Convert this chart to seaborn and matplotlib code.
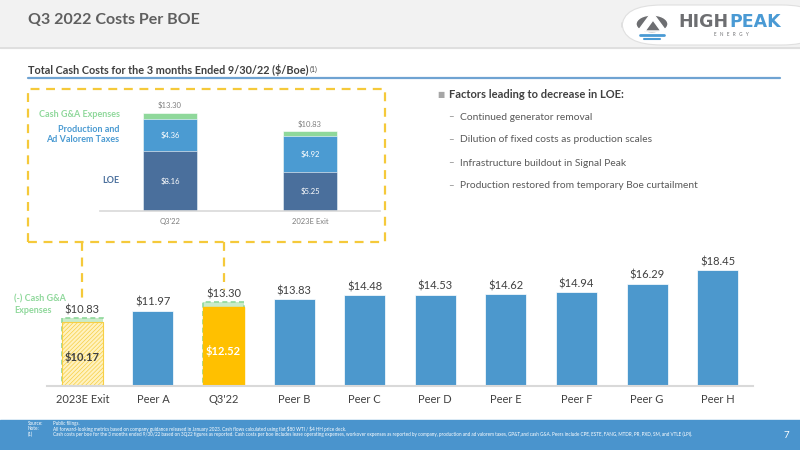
import numpy as np
import pandas as pd
import matplotlib
matplotlib.use("Agg")
import matplotlib.pyplot as plt
import seaborn as sns
from matplotlib.patches import Rectangle, FancyBboxPatch, Circle, Polygon
from matplotlib.lines import Line2D

# inset stacked chart (Q3'22 vs 2023E exit)
inset_cats = ["Q3'22", "2023E Exit"]
loe = [8.16, 5.25]
prod_taxes = [4.36, 4.92]
cash_ga = [0.78, 0.66]

# peer comparison chart
peer_cats = ["2023E Exit", "Peer A", "Q3'22", "Peer B", "Peer C", "Peer D",
             "Peer E", "Peer F", "Peer G", "Peer H"]
peer_totals = [10.83, 11.97, 13.30, 13.83, 14.48, 14.53, 14.62, 14.94, 16.29, 18.45]
hpk_cats = ["2023E Exit", "Q3'22"]
hpk_ex_ga = [10.17, 12.52]

factors = ["Continued generator removal",
           "Dilution of fixed costs as production scales",
           "Infrastructure buildout in Signal Peak",
           "Production restored from temporary Boe curtailment"]

sns.set_style("white")
plt.rcParams['font.family'] = ['Lato', 'DejaVu Sans']
plt.rcParams["hatch.linewidth"] = 0.5

W, H = 800, 450
fig = plt.figure(figsize=(8, 4.5), dpi=100)


def fx(x):
    return x / W


def fy(y):
    return 1 - y / H


def txt(x, y, s, **kw):
    return fig.text(fx(x), fy(y), s, **kw)


# header band
fig.patches.append(Rectangle((0, fy(48)), 1, 48 / H, transform=fig.transFigure,
                             color="#f2f2f2", zorder=0))
fig.add_artist(Line2D([0, 1], [fy(48), fy(48)], transform=fig.transFigure,
                      color="#dcdcdc", lw=1.2))
txt(28, 20, "Q3 2022 Costs Per BOE", fontsize=11.5, fontweight="bold",
    color="#5f5f5f", va="center")

# logo
fig.patches.append(FancyBboxPatch((fx(622), fy(45)), fx(200), 40 / H,
                                  boxstyle="round,pad=0,rounding_size=0.05",
                                  transform=fig.transFigure, fc="white",
                                  ec="#e0e0e0", lw=0.8, zorder=1))
fig.patches.append(Circle((fx(652), fy(24)), 16 / W, transform=fig.transFigure,
                          fc="#6d6e71", zorder=2))
fig.patches.append(Polygon([(fx(638), fy(31)), (fx(652), fy(12)), (fx(666), fy(31))],
                           closed=True, transform=fig.transFigure, fc="white", zorder=3))
fig.patches.append(Polygon([(fx(645), fy(31)), (fx(653), fy(20)), (fx(661), fy(31))],
                           closed=True, transform=fig.transFigure, fc="#6d6e71", zorder=4))
fig.add_artist(Line2D([fx(640), fx(664)], [fy(35), fy(35)], transform=fig.transFigure,
                      color="#4a9ad4", lw=2, zorder=5))
fig.add_artist(Line2D([fx(644), fx(660)], [fy(39), fy(39)], transform=fig.transFigure,
                      color="#4a9ad4", lw=1.5, zorder=5))
txt(729, 22, "HIGH", fontsize=12.5, fontweight="heavy", color="#6d6e71",
    ha="right", va="center", family="DejaVu Sans", zorder=5)
txt(729, 22, "PEAK", fontsize=12.5, fontweight="heavy", color="#4a9ad4",
    ha="left", va="center", family="DejaVu Sans", zorder=5)
txt(731, 35, "E   N   E   R   G   Y", fontsize=3.3, color="#6d6e71", ha="center",
    va="center", zorder=5)

# subtitle with underline
sub = txt(28, 70, "Total Cash Costs for the 3 months Ended 9/30/22 (\\$/Boe)",
          fontsize=7.8, fontweight="bold", color="#404040", va="center")

# dashed highlight box and connectors
ycol = "#f5c93a"
box = Rectangle((fx(28), fy(242)), fx(357), 153 / H, transform=fig.transFigure,
                fill=False, ec=ycol, lw=1.6, ls=(0, (4, 3)), zorder=1)
fig.patches.append(box)
for xc, yb in [(82, 300), (224, 290)]:
    fig.add_artist(Line2D([fx(xc), fx(xc)], [fy(242), fy(yb)], transform=fig.transFigure,
                          color=ycol, lw=1.6, ls=(0, (4, 3))))
fig.add_artist(Line2D([fx(28), fx(780)], [fy(78), fy(78)], transform=fig.transFigure,
                      color="#6fa3d2", lw=1.6))

# ---- inset stacked chart ----
ax1 = fig.add_axes([fx(100), fy(211), fx(280), 110.5 / H])
inset = pd.DataFrame({"cat": inset_cats, "loe": loe, "prod": prod_taxes, "ga": cash_ga})
inset["lvl2"] = inset["loe"] + inset["prod"]
inset["lvl3"] = inset["lvl2"] + inset["ga"]
sns.barplot(data=inset, x="cat", y="lvl3", color="#8fd89b", width=0.39, ax=ax1,
            saturation=1)
sns.barplot(data=inset, x="cat", y="lvl2", color="#4b9bd2", width=0.39, ax=ax1,
            saturation=1)
sns.barplot(data=inset, x="cat", y="loe", color="#4a6f9c", width=0.39, ax=ax1,
            saturation=1)
for p in ax1.patches:
    p.set_edgecolor("white")
    p.set_linewidth(0.4)
ax1.set_ylim(0, 15)
ax1.set_xlim(-0.5, 1.5)
for i, r in inset.iterrows():
    ax1.text(i, r["lvl3"] + 0.5, f"${r['lvl3']:.2f}", ha="center", va="bottom",
             fontsize=5.5, color="#7f7f7f")
    ax1.text(i, r["loe"] + r["prod"] / 2, f"${r['prod']:.2f}", ha="center",
             va="center", fontsize=5.5, color="white")
    ax1.text(i, r["loe"] / 2, f"${r['loe']:.2f}", ha="center", va="center",
             fontsize=5.5, color="white")
ax1.text(-0.36, inset["loe"][0] + inset["prod"][0] + inset["ga"][0] / 2 + 0.2,
         "Cash G&A Expenses", ha="right", va="center", fontsize=6.5,
         fontweight="bold", color="#8fd89b")
ax1.text(-0.36, inset["loe"][0] + inset["prod"][0] / 2, "Production and\nAd Valorem Taxes",
         ha="right", va="center", fontsize=6.5, fontweight="bold", color="#4b9bd2",
         linespacing=1.1)
ax1.text(-0.36, inset["loe"][0] / 2, "LOE", ha="right", va="center", fontsize=6.5,
         fontweight="bold", color="#4a6f9c")
ax1.set_xlabel("")
ax1.set_ylabel("")
ax1.set_yticks([])
ax1.tick_params(axis="x", length=0, labelsize=5.5, labelcolor="#7f7f7f", pad=5)
sns.despine(ax=ax1, left=True)
ax1.spines["bottom"].set_color("#d9d9d9")
ax1.spines["bottom"].set_linewidth(1.2)
ax1.patch.set_alpha(0)

# superscript footnote marker on the subtitle
ax1.annotate("(1)", xy=(1, 1), xycoords=sub, xytext=(1, -1),
             textcoords="offset points", fontsize=5, color="#404040",
             va="top", ha="left", annotation_clip=False)

# ---- peer bar chart ----
ax2 = fig.add_axes([fx(47), fy(386), 706 / W, 138.2 / H])
peers = pd.DataFrame({"cat": peer_cats, "total": peer_totals})
hpk = pd.DataFrame({"cat": hpk_cats, "val": hpk_ex_ga})
pal = ["#c9ebc9" if c in hpk_cats else "#4c98cd" for c in peer_cats]
sns.barplot(data=peers, x="cat", y="total", hue="cat", palette=pal, order=peer_cats,
            width=0.58, ax=ax2, saturation=1, legend=False)
for p, c in zip(ax2.patches, peer_cats):
    if c in hpk_cats:
        p.set_edgecolor("#8fd89b")
        p.set_linestyle((0, (3, 2)))
        p.set_linewidth(1.2)
    else:
        p.set_edgecolor("white")
        p.set_linewidth(0.5)
n0 = len(ax2.patches)
sns.barplot(data=hpk, x="cat", y="val", hue="cat", order=peer_cats,
            palette={"2023E Exit": "#fff2c0", "Q3'22": "#ffc000"},
            width=0.58, ax=ax2, saturation=1, legend=False)
for p in ax2.patches[n0:]:
    xc = p.get_x() + p.get_width() / 2
    if abs(xc - peer_cats.index("2023E Exit")) < 0.3:
        p.set_hatch("////////")
        p.set_edgecolor("#f7cf45")
        p.set_linewidth(0.8)
    else:
        p.set_edgecolor("#ffc000")
ax2.set_xlim(-0.5, 9.5)
ax2.set_ylim(0, 22)
for i, v in enumerate(peer_totals):
    ax2.text(i, v + 0.45, f"${v:.2f}", ha="center", va="bottom", fontsize=8,
             color="#404040")
for c, v in zip(hpk_cats, hpk_ex_ga):
    i = peer_cats.index(c)
    col = "white" if c == "Q3'22" else "#404040"
    ax2.text(i, v * 0.45, f"${v:.2f}", ha="center", va="center", fontsize=8,
             fontweight="bold", color=col)
ax2.set_xlabel("")
ax2.set_ylabel("")
ax2.set_yticks([])
ax2.tick_params(axis="x", length=0, labelsize=8, labelcolor="#404040", pad=6)
sns.despine(ax=ax2, left=True)
ax2.spines["bottom"].set_color("#d9d9d9")
ax2.spines["bottom"].set_linewidth(1.5)
ax2.patch.set_alpha(0)

txt(14, 305, "(-) Cash G&A\nExpenses", fontsize=6.5, fontweight="bold",
    color="#8fd89b", va="center", linespacing=1.3)

# right-hand commentary
txt(437, 94, "\u25a0", fontsize=5.5, color="#a6a6a6", va="center",
    family=["DejaVu Sans"])
txt(449, 94, "Factors leading to decrease in LOE:", fontsize=8, fontweight="bold",
    color="#404040", va="center")
for k, f in enumerate(factors):
    yy = 117 + 23 * k
    txt(448, yy, "\u2013", fontsize=7, color="#8c8c8c", va="center")
    txt(460, yy, f, fontsize=7.4, color="#595959", va="center")

# footer band
fig.patches.append(Rectangle((0, 0), 1, 30 / H, transform=fig.transFigure,
                             color="#4a94cd", zorder=0))
foot = [("Source:", "Public filings."),
        ("Note:", "All forward-looking metrics based on company guidance released in January 2023. "
                  "Cash flows calculated using flat \\$80 WTI / \\$4 HH price deck."),
        ("(1)", "Cash costs per boe for the 3 months ended 9/30/22 based on 3Q22 figures as reported. "
                "Cash costs per boe includes lease operating expenses, workover expenses as reported "
                "by company, production and ad valorem taxes, GP&T,and cash G&A. Peers include CPE, "
                "ESTE, FANG, MTDR, PR, PXD, SM, and VTLE (LPI).")]
for k, (a, b) in enumerate(foot):
    yy = 423.2 + 5.4 * k
    txt(28, yy, a, fontsize=3.3, color="white", va="center")
    txt(53, yy, b, fontsize=3.3, color="white", va="center")
txt(786, 435, "7", fontsize=7, color="white", va="center", ha="center")

fig.savefig("out.png", dpi=100)
